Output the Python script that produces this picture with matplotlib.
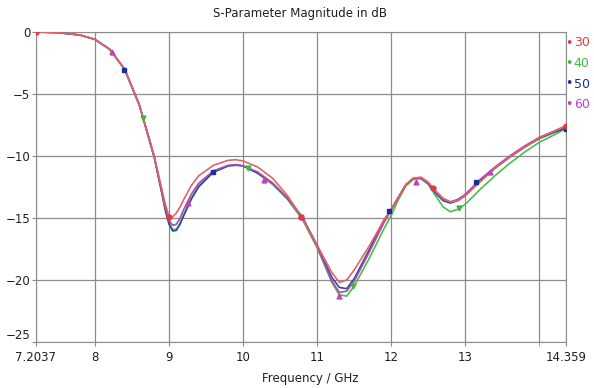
import matplotlib
matplotlib.use("Agg")
import matplotlib.pyplot as plt

# frequency grid (GHz) and S11 magnitudes (dB)
freq = [7.2037, 7.5, 7.8, 8.0, 8.2, 8.4, 8.6, 8.8, 8.9, 8.95, 9.0, 9.05, 9.1, 9.15,
        9.2, 9.3, 9.4, 9.6, 9.8, 9.9, 10.0, 10.2, 10.4, 10.6, 10.8, 11.0, 11.2,
        11.3, 11.4, 11.5, 11.7, 11.9, 12.0, 12.1, 12.2, 12.3, 12.4, 12.5, 12.6,
        12.7, 12.8, 12.9, 13.0, 13.2, 13.4, 13.6, 13.8, 14.0, 14.2, 14.359]

s30 = [0.0, -0.05, -0.25, -0.6, -1.4, -3.0, -5.9, -10.0, -12.6, -13.9, -14.85, -14.9,
       -14.6, -14.1, -13.5, -12.4, -11.6, -10.75, -10.35, -10.3, -10.4, -10.9, -11.8,
       -13.2, -15.0, -17.2, -19.4, -20.2, -20.0, -19.2, -17.3, -15.2, -14.3, -13.3,
       -12.3, -11.8, -11.7, -12.1, -12.8, -13.4, -13.7, -13.6, -13.2, -12.1, -11.0,
       -10.1, -9.3, -8.55, -8.0, -7.55]
s40 = [0.0, -0.05, -0.25, -0.6, -1.4, -3.0, -5.9, -10.1, -12.9, -14.3, -15.4, -15.95,
       -15.9, -15.4, -14.7, -13.4, -12.4, -11.3, -10.8, -10.7, -10.8, -11.4, -12.3,
       -13.5, -15.1, -17.4, -20.2, -21.2, -21.3, -20.5, -18.3, -15.9, -14.8, -13.5,
       -12.4, -11.9, -11.8, -12.3, -13.2, -14.1, -14.5, -14.3, -13.9, -12.7, -11.6,
       -10.6, -9.7, -8.9, -8.3, -7.8]
s50 = [0.0, -0.05, -0.25, -0.6, -1.4, -3.0, -5.9, -10.1, -12.9, -14.4, -15.5, -16.05,
       -16.0, -15.5, -14.8, -13.5, -12.5, -11.3, -10.8, -10.75, -10.8, -11.4, -12.2,
       -13.4, -14.9, -17.2, -19.8, -20.6, -20.7, -19.9, -17.6, -15.2, -14.3, -13.3,
       -12.3, -11.8, -11.8, -12.2, -13.0, -13.6, -13.8, -13.6, -13.2, -12.0, -11.0,
       -10.1, -9.3, -8.6, -8.1, -7.75]
s60 = [0.0, -0.05, -0.25, -0.6, -1.4, -3.0, -5.9, -10.0, -12.8, -14.2, -15.2, -15.6,
       -15.5, -15.0, -14.3, -13.1, -12.2, -11.2, -10.75, -10.7, -10.8, -11.3, -12.2,
       -13.4, -15.0, -17.3, -20.1, -21.0, -20.9, -20.1, -17.8, -15.4, -14.4, -13.3,
       -12.3, -11.8, -11.8, -12.2, -12.9, -13.5, -13.7, -13.5, -13.1, -11.9, -10.9,
       -10.0, -9.2, -8.5, -8.0, -7.6]

# marker positions on each curve
m30_f = [7.2037, 9.0, 10.78, 12.57, 14.359]
m30_v = [0.0, -14.9, -14.9, -12.6, -7.55]
m40_f = [8.645, 10.07, 11.49, 12.92]
m40_v = [-6.9, -11.0, -20.5, -14.2]
m50_f = [8.397, 9.59, 10.78, 11.97, 13.15, 14.359]
m50_v = [-3.06, -11.3, -14.9, -14.4, -12.1, -7.8]
m60_f = [8.226, 9.26, 10.28, 11.30, 12.33, 13.34]
m60_v = [-1.64, -13.8, -11.9, -21.3, -12.1, -11.3]

labels = ["30", "40", "50", "60"]
xticks = [7.2037, 8, 9, 10, 11, 12, 13, 14.359]
xtick_labels = ["7.2037", "8", "9", "10", "11", "12", "13", "14.359"]
yticks = [0, -5, -10, -15, -20, -25]

colors = ["#e03c3c", "#3cb83c", "#1c2ca0", "#c040c0"]
line_colors = ["#e06464", "#4cbc4c", "#2c4c9c", "#b048b0"]
markers = ["o", "v", "s", "^"]

fig = plt.figure(figsize=(5.94, 3.88), dpi=100)
ax = fig.add_axes([0.0606, 0.1186, 0.892, 0.799])

series = [s40, s50, s60, s30]
mk = [(m40_f, m40_v), (m50_f, m50_v), (m60_f, m60_v), (m30_f, m30_v)]
order = [1, 2, 3, 0]
for s, (mf, mv), i in zip(series, mk, order):
    ax.plot(freq, s, color=line_colors[i], lw=1.2, zorder=3)
    ax.plot(mf, mv, ls="none", marker=markers[i], ms=3.5, color=colors[i], zorder=4)

ax.set_xlim(7.2037, 14.359)
ax.set_ylim(-25, 0)
ax.set_xticks(xticks)
ax.set_xticklabels(xtick_labels)
ax.set_xticks([14], minor=True)
ax.set_yticks(yticks)
ax.grid(True, which="both", color="#8c8c8c", lw=0.9)
ax.set_axisbelow(True)
ax.tick_params(which="both", direction="out", length=3, color="#8c8c8c",
               labelsize=8.5, labelcolor="#202020")
ax.tick_params(axis="x", pad=3.5)
ax.tick_params(axis="y", pad=1)
for sp in ax.spines.values():
    sp.set_color("#8c8c8c")

# lift the bottom y label a touch so it clears the first x label
ax.get_yticklabels()[-1].set_va("bottom")

fig.text(0.505, 0.965, "S-Parameter Magnitude in dB", ha="center", va="center",
         fontsize=8.5, color="#202020")
fig.text(0.522, 0.025, "Frequency / GHz", ha="center", va="center",
         fontsize=8.5, color="#202020")

for k, lab in enumerate(labels):
    y = 1 - (43 + 20.5 * k) / 388
    fig.text(0.958, y, "\u2022", color=colors[k], fontsize=9, ha="center", va="center")
    fig.text(0.966, y, lab, color=colors[k], fontsize=9, ha="left", va="center")

fig.savefig("out.png", dpi=100)
